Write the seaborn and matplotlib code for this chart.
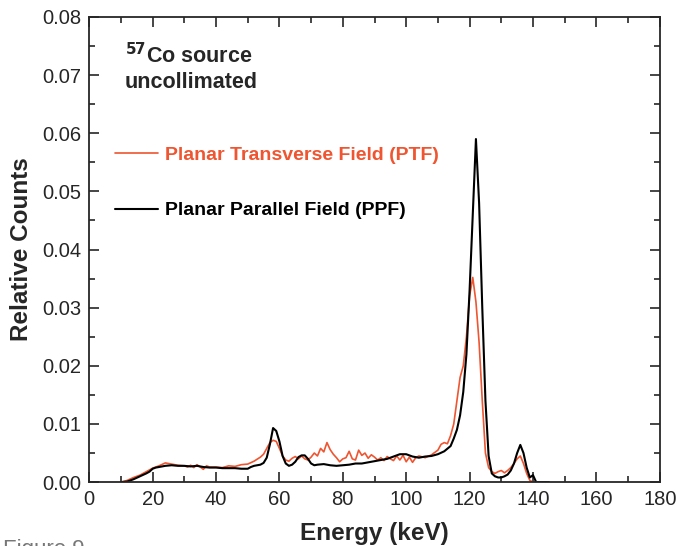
import numpy as np
import pandas as pd
import matplotlib
matplotlib.use('Agg')
import matplotlib.pyplot as plt
import seaborn as sns
from matplotlib.ticker import MultipleLocator

# Energy grids (keV) and relative counts (x 1e-3)
ppf_energy = [10, 12, 14, 16, 18, 19, 20, 21, 22, 24, 26, 28, 30, 32, 34, 36, 38, 40,
              42, 44, 46, 48, 50, 51, 52, 54, 55, 56, 57, 58, 59, 60, 61, 62, 63, 64,
              65, 66, 67, 68, 69, 70, 71, 72, 74, 76, 78, 80, 82, 84, 86, 88, 90, 92,
              94, 96, 98, 100, 102, 104, 106, 108, 110, 112, 114, 115, 116, 117, 118,
              119, 120, 121, 122, 123, 124, 125, 126, 127, 128, 129, 130, 131, 132,
              133, 134, 135, 136, 137, 138, 139, 140, 141, 142, 145]
ppf_counts = [0.0, 0.1, 0.5, 1.0, 1.5, 1.8, 2.3, 2.5, 2.6, 2.8, 2.9, 2.8, 2.8, 2.7, 2.8,
              2.6, 2.5, 2.5, 2.4, 2.4, 2.4, 2.3, 2.3, 2.6, 2.8, 3.0, 3.3, 4.2, 6.5, 9.3,
              8.8, 7.0, 4.5, 3.2, 2.8, 3.0, 3.5, 4.3, 4.6, 4.6, 4.0, 3.2, 2.9, 3.0, 3.1,
              2.9, 2.8, 2.9, 3.0, 3.2, 3.2, 3.4, 3.6, 3.8, 4.0, 4.4, 4.8, 4.8, 4.4, 4.2,
              4.4, 4.5, 4.8, 5.3, 6.2, 7.5, 9.0, 11.5, 15.5, 22.0, 33.0, 46.0, 59.0,
              48.0, 30.0, 14.0, 4.5, 1.5, 1.0, 0.8, 0.8, 1.0, 1.3, 2.0, 3.2, 5.0, 6.4,
              5.0, 2.5, 0.8, 1.2, 0.0, 0.0, 0.0]

ptf_energy = [10, 12, 14, 16, 18, 20, 22, 24, 25, 26, 28, 30, 31, 32, 33, 34, 35, 36,
              37, 38, 40, 42, 44, 46, 48, 50, 52, 54, 55, 56, 57, 58, 59, 60, 61, 62,
              63, 64, 65, 66, 67, 68, 69, 70, 71, 72, 73, 74, 75, 76, 77, 78, 79, 80,
              81, 82, 83, 84, 85, 86, 87, 88, 89, 90, 91, 92, 93, 94, 95, 96, 97, 98,
              99, 100, 101, 102, 103, 104, 106, 108, 110, 111, 112, 113, 114, 115, 116,
              117, 118, 119, 120, 121, 122, 123, 124, 125, 126, 127, 128, 129, 130,
              131, 132, 133, 134, 135, 136, 137, 138, 139, 140, 142, 145]
ptf_counts = [0.0, 0.3, 0.8, 1.2, 1.8, 2.4, 2.8, 3.3, 3.2, 3.1, 2.9, 2.8, 2.6, 2.9, 2.5,
              3.0, 2.6, 2.2, 2.8, 2.6, 2.6, 2.5, 2.8, 2.7, 3.0, 3.1, 3.6, 4.3, 4.8, 5.8,
              6.8, 7.2, 7.0, 5.8, 4.5, 3.8, 3.6, 4.1, 4.4, 4.0, 4.5, 4.0, 3.8, 4.3, 5.0,
              4.5, 5.8, 5.2, 6.8, 5.6, 4.8, 4.2, 3.5, 4.0, 4.2, 5.3, 4.0, 3.8, 5.5, 4.6,
              5.0, 4.1, 4.7, 4.3, 3.8, 4.2, 3.7, 4.4, 4.0, 3.7, 4.5, 3.8, 4.6, 3.5, 4.3,
              3.4, 4.2, 4.5, 4.2, 4.7, 5.5, 6.5, 6.8, 6.6, 8.0, 10.0, 14.0, 18.0, 20.0,
              25.0, 32.0, 35.2, 31.0, 24.0, 14.0, 5.0, 2.5, 1.8, 1.5, 1.8, 2.0, 1.6, 2.0,
              2.5, 3.2, 4.0, 4.5, 3.2, 1.5, 0.3, 0.0, 0.0, 0.0]

ppf = pd.DataFrame({'energy': ppf_energy, 'counts': np.array(ppf_counts) / 1000})
ptf = pd.DataFrame({'energy': ptf_energy, 'counts': np.array(ptf_counts) / 1000})

sns.set_theme(style='ticks')
plt.rcParams['font.family'] = ['Liberation Sans', 'DejaVu Sans']

fig = plt.figure(figsize=(6.76, 5.46), dpi=100)
ax = fig.add_axes([0.132, 0.117, 0.844, 0.852])

orange = '#EE5530'
sns.lineplot(data=ptf, x='energy', y='counts', color=orange, lw=1.2,
             label='Planar Transverse Field (PTF)', ax=ax)
sns.lineplot(data=ppf, x='energy', y='counts', color='black', lw=1.5,
             label='Planar Parallel Field (PPF)', ax=ax)

ax.set_xlim(0, 180)
ax.set_ylim(0, 0.08)
ax.xaxis.set_major_locator(MultipleLocator(20))
ax.xaxis.set_minor_locator(MultipleLocator(10))
ax.yaxis.set_major_locator(MultipleLocator(0.01))
ax.yaxis.set_minor_locator(MultipleLocator(0.005))
ax.yaxis.set_major_formatter(matplotlib.ticker.FormatStrFormatter('%.2f'))
ax.tick_params(which='both', direction='in', top=True, right=True, width=1.2)
ax.tick_params(which='major', length=7, labelsize=14.5, pad=6)
ax.tick_params(which='minor', length=4)
for s in ax.spines.values():
    s.set_linewidth(1.3)

ax.set_xlabel('Energy (keV)', fontsize=17.5, fontweight='bold', labelpad=9)
ax.set_ylabel('Relative Counts', fontsize=17.5, fontweight='bold', labelpad=6)

leg = ax.legend(loc='upper left', bbox_to_anchor=(0.046, 0.722), frameon=False,
                borderpad=0, borderaxespad=0, handlelength=2.2, handletextpad=0.36,
                labelspacing=1.95, prop={'weight': 'bold', 'size': 14})
for txt, col in zip(leg.get_texts(), [orange, 'black']):
    txt.set_color(col)

ax.text(0.062, 0.943, r'$^{\mathbf{57}}$Co source' + '\nuncollimated', transform=ax.transAxes,
        fontsize=15.5, fontweight='bold', va='top', linespacing=1.2)

fig.text(0.005, -0.017, 'Figure 9', fontsize=16, color='#777777')

fig.savefig('out.png', dpi=100)
